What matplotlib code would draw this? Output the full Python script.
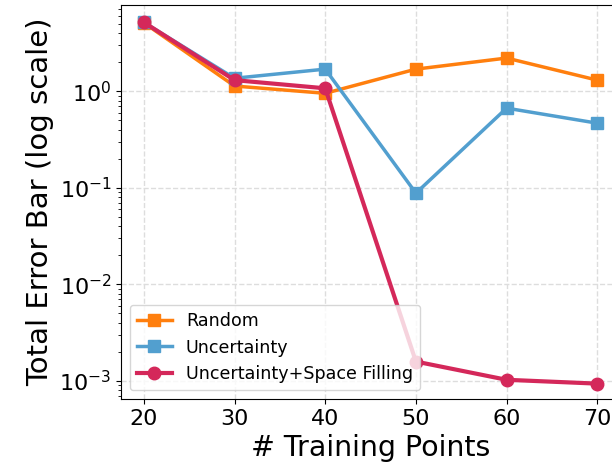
import matplotlib.pyplot as plt

n_points = [20, 30, 40, 50, 60, 70]
err_random = [5.1, 1.13, 0.95, 1.69, 2.2, 1.3]
err_uncert = [5.15, 1.36, 1.69, 0.088, 0.667, 0.466]
err_uncert_sf = [5.15, 1.30, 1.07, 1.59e-3, 1.03e-3, 9.4e-4]

fig = plt.figure(figsize=(6.12, 4.74), dpi=100)
ax = fig.add_axes([0.198, 0.158, 0.815, 0.831])

ax.plot(n_points, err_random, color='#ff7f0e', marker='s', markersize=8,
        linewidth=2.5, label='Random')
ax.plot(n_points, err_uncert, color='#529fcf', marker='s', markersize=8,
        linewidth=2.5, label='Uncertainty')
ax.plot(n_points, err_uncert_sf, color='#d4285a', marker='o', markersize=9,
        linewidth=3, label='Uncertainty+Space Filling')

ax.set_yscale('log')
ax.set_xlim(17.5, 72.5)
ax.set_ylim(6.5e-4, 7.75)
ax.set_xticks(n_points)
ax.grid(True, which='major', linestyle='--', color='#dddddd', linewidth=1)

ax.tick_params(axis='both', labelsize=16)
ax.set_xlabel('# Training Points', fontsize=20.5)
ax.set_ylabel('Total Error Bar (log scale)', fontsize=21)
ax.legend(loc='lower left', fontsize=12.6)

fig.savefig('out.png', dpi=100)
